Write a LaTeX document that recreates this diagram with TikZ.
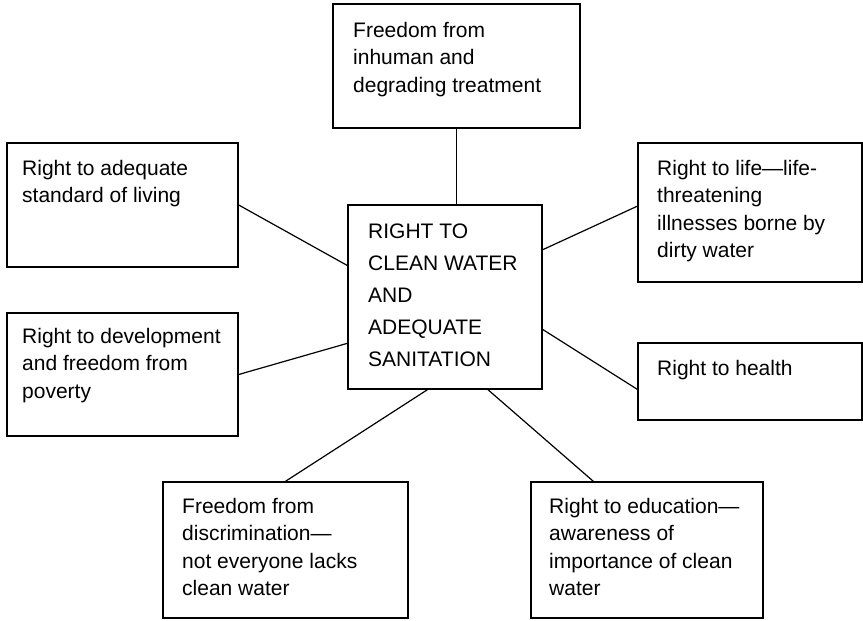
\documentclass[tikz,border=0pt]{standalone}
\usepackage{fontspec}
\setmainfont{Liberation Sans}
\usetikzlibrary{calc}
\begin{document}
\begin{tikzpicture}[x=1pt,y=-1pt,
  box/.style={draw=black, line width=1.4pt, rectangle, inner sep=0pt},
  txt/.style={anchor=north west, inner sep=0pt, align=left, font=\fontsize{21}{27.5}\selectfont},
  link/.style={draw=black, line width=1.2pt}]
\useasboundingbox (0,0) rectangle (863,621);

% frames
\node[box, minimum width=247pt, minimum height=124pt] (top) at (456.5,66) {};
\node[box, minimum width=231pt, minimum height=124pt] (lt) at (122.5,205) {};
\node[box, minimum width=231pt, minimum height=123pt] (lm) at (122.5,374.5) {};
\node[box, minimum width=194pt, minimum height=184pt] (c) at (445,297) {};
\node[box, minimum width=224pt, minimum height=139pt] (rt) at (750,212.5) {};
\node[box, minimum width=224pt, minimum height=77pt] (rm) at (750,381.5) {};
\node[box, minimum width=245pt, minimum height=136pt] (bl) at (285.5,550) {};
\node[box, minimum width=232pt, minimum height=136pt] (br) at (647,550) {};

% texts
\node[txt] (ttop) at (353,22) {Freedom from\\inhuman and\\degrading treatment};
\node[txt] (tlt) at (22,160) {Right to adequate\\standard of living};
\node[txt] (tlm) at (22,328) {Right to development\\and freedom from\\poverty};
\node[txt, font=\fontsize{21}{32}\selectfont] (tc) at (368,224) {RIGHT TO\\CLEAN WATER\\AND\\ADEQUATE\\SANITATION};
\node[txt] (trt) at (657,160) {Right to life—life-\\threatening\\illnesses borne by\\dirty water};
\node[txt] (trm) at (657,360) {Right to health};
\node[txt] (tbl) at (182,498) {Freedom from\\discrimination—\\not everyone lacks\\clean water};
\node[txt] (tbr) at (549,498) {Right to education—\\awareness of\\importance of clean\\water};

% connectors
\draw[link] (top.south) -- (top.south |- c.north);
\draw[link] (lt.east) -- ($(c.north west)!0.33!(c.south west)$);
\draw[link] (lm.east) -- ($(c.north west)!0.75!(c.south west)$);
\draw[link] ($(rt.north west)!0.455!(rt.south west)$) -- ($(c.north east)!0.245!(c.south east)$);
\draw[link] ($(rm.north west)!0.6!(rm.south west)$) -- ($(c.north east)!0.675!(c.south east)$);
\draw[link] (bl.north) -- ($(c.south west)!0.41!(c.south east)$);
\draw[link] ($(br.north west)!0.27!(br.north east)$) -- ($(c.south west)!0.72!(c.south east)$);
\end{tikzpicture}
\end{document}
